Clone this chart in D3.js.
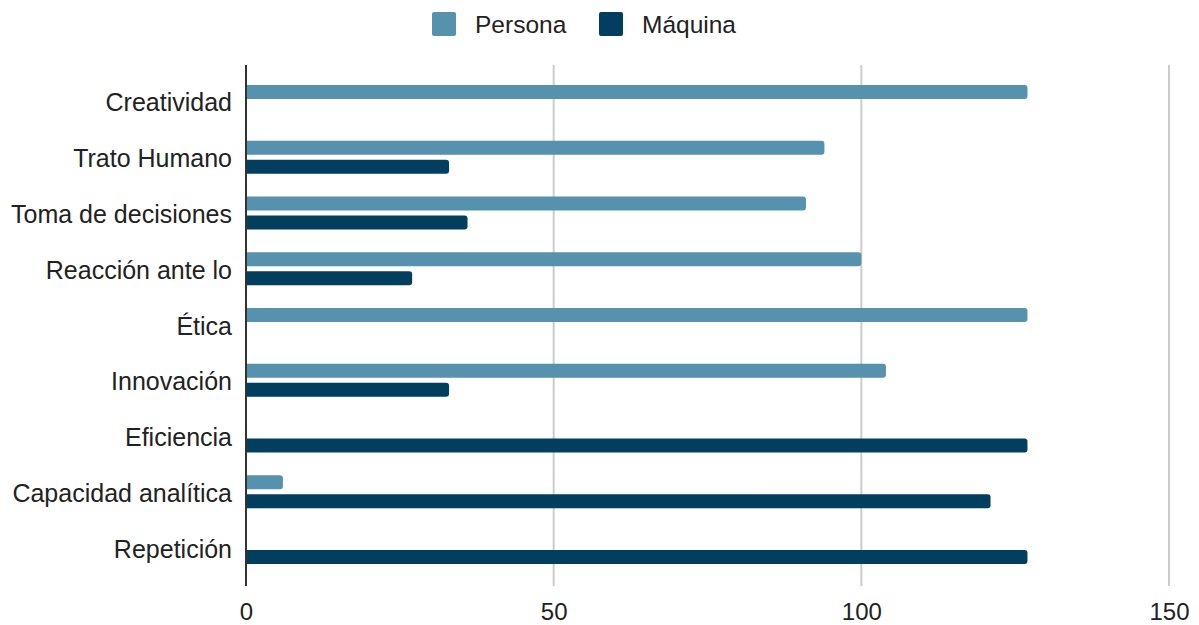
<!DOCTYPE html>
<html>
<head>
<meta charset="utf-8">
<script src="https://cdn.jsdelivr.net/npm/d3@7"></script>
<style>
  body { margin: 0; background: #fff; }
  text { font-family: "Liberation Sans", Arial, sans-serif; fill: #222; }
</style>
</head>
<body>
<div class="canvas"></div>
<script>
// data
const categories = ['Creatividad', 'Trato Humano', 'Toma de decisiones', 'Reacción ante lo',
    'Ética', 'Innovación', 'Eficiencia', 'Capacidad analítica', 'Repetición'];
const persona = [127, 94, 91, 100, 127, 104, 0, 6, 0];
const maquina = [0, 33, 36, 27, 0, 33, 127, 121, 127];
const seriesNames = ['Persona', 'Máquina'];
const colors = ['#5691ad', '#023f5e'];
const xTicks = [0, 50, 100, 150];

const width = 1199, height = 625;

const svg = d3.select('.canvas')
    .append('svg')
    .attr('width', width)
    .attr('height', height);

// scales
const x = d3.scaleLinear()
    .domain([0, 150])
    .range([246, 1169]);

const y = d3.scaleBand()
    .domain(categories)
    .range([73.6, 575.4]);

const barH = 14, gap = 5;

// gridlines
svg.append('g')
    .selectAll('line')
    .data(xTicks.filter(d => d > 0))
    .enter()
    .append('line')
    .attr('x1', d => x(d))
    .attr('x2', d => x(d))
    .attr('y1', 65)
    .attr('y2', 586)
    .attr('stroke', '#cccccc')
    .attr('stroke-width', 2);

// x tick labels
const xAxis = d3.axisBottom(x).tickValues(xTicks).tickSize(0).tickPadding(0);
const xAxisGroup = svg.append('g')
    .attr('transform', 'translate(0, 603)')
    .call(xAxis);
xAxisGroup.select('.domain').remove();
xAxisGroup.selectAll('text')
    .attr('font-size', 24)
    .attr('font-family', '"Liberation Sans", Arial, sans-serif')
    .attr('fill', '#222')
    .attr('dy', '0.71em');

// bars, rounded on the right end only
const barPath = (x0, x1, yTop, h, r) => {
    if (x1 - x0 <= 0) return '';
    r = Math.min(r, (x1 - x0) / 2);
    return `M${x0},${yTop}H${x1 - r}Q${x1},${yTop} ${x1},${yTop + r}` +
        `V${yTop + h - r}Q${x1},${yTop + h} ${x1 - r},${yTop + h}H${x0}Z`;
};

const series = [persona, maquina];
series.forEach((vals, s) => {
    svg.append('g')
        .selectAll('path')
        .data(categories)
        .enter()
        .append('path')
        .attr('fill', colors[s])
        .attr('d', (d, i) => {
            const c = y(d) + y.bandwidth() / 2;
            const top = s === 0 ? c - gap / 2 - barH : c + gap / 2;
            return barPath(x(0), x(vals[i]), top, barH, 3);
        });
});

// y axis line
svg.append('line')
    .attr('x1', x(0))
    .attr('x2', x(0))
    .attr('y1', 65)
    .attr('y2', 586)
    .attr('stroke', '#333')
    .attr('stroke-width', 2);

// category labels
const yAxis = d3.axisLeft(y).tickSize(0).tickPadding(14);
const yAxisGroup = svg.append('g')
    .attr('transform', `translate(${x(0)}, 2)`)
    .call(yAxis);
yAxisGroup.select('.domain').remove();
yAxisGroup.selectAll('text')
    .attr('font-size', 25)
    .attr('font-family', '"Liberation Sans", Arial, sans-serif')
    .attr('fill', '#222');

// legend
const legendX = [432, 599];
const legend = svg.append('g');
seriesNames.forEach((name, i) => {
    legend.append('rect')
        .attr('x', legendX[i])
        .attr('y', 12)
        .attr('width', 24)
        .attr('height', 24)
        .attr('rx', 2)
        .attr('fill', colors[i]);
    legend.append('text')
        .attr('x', legendX[i] + 43)
        .attr('y', 33)
        .attr('font-size', 24.5)
        .text(name);
});
</script>
</body>
</html>
